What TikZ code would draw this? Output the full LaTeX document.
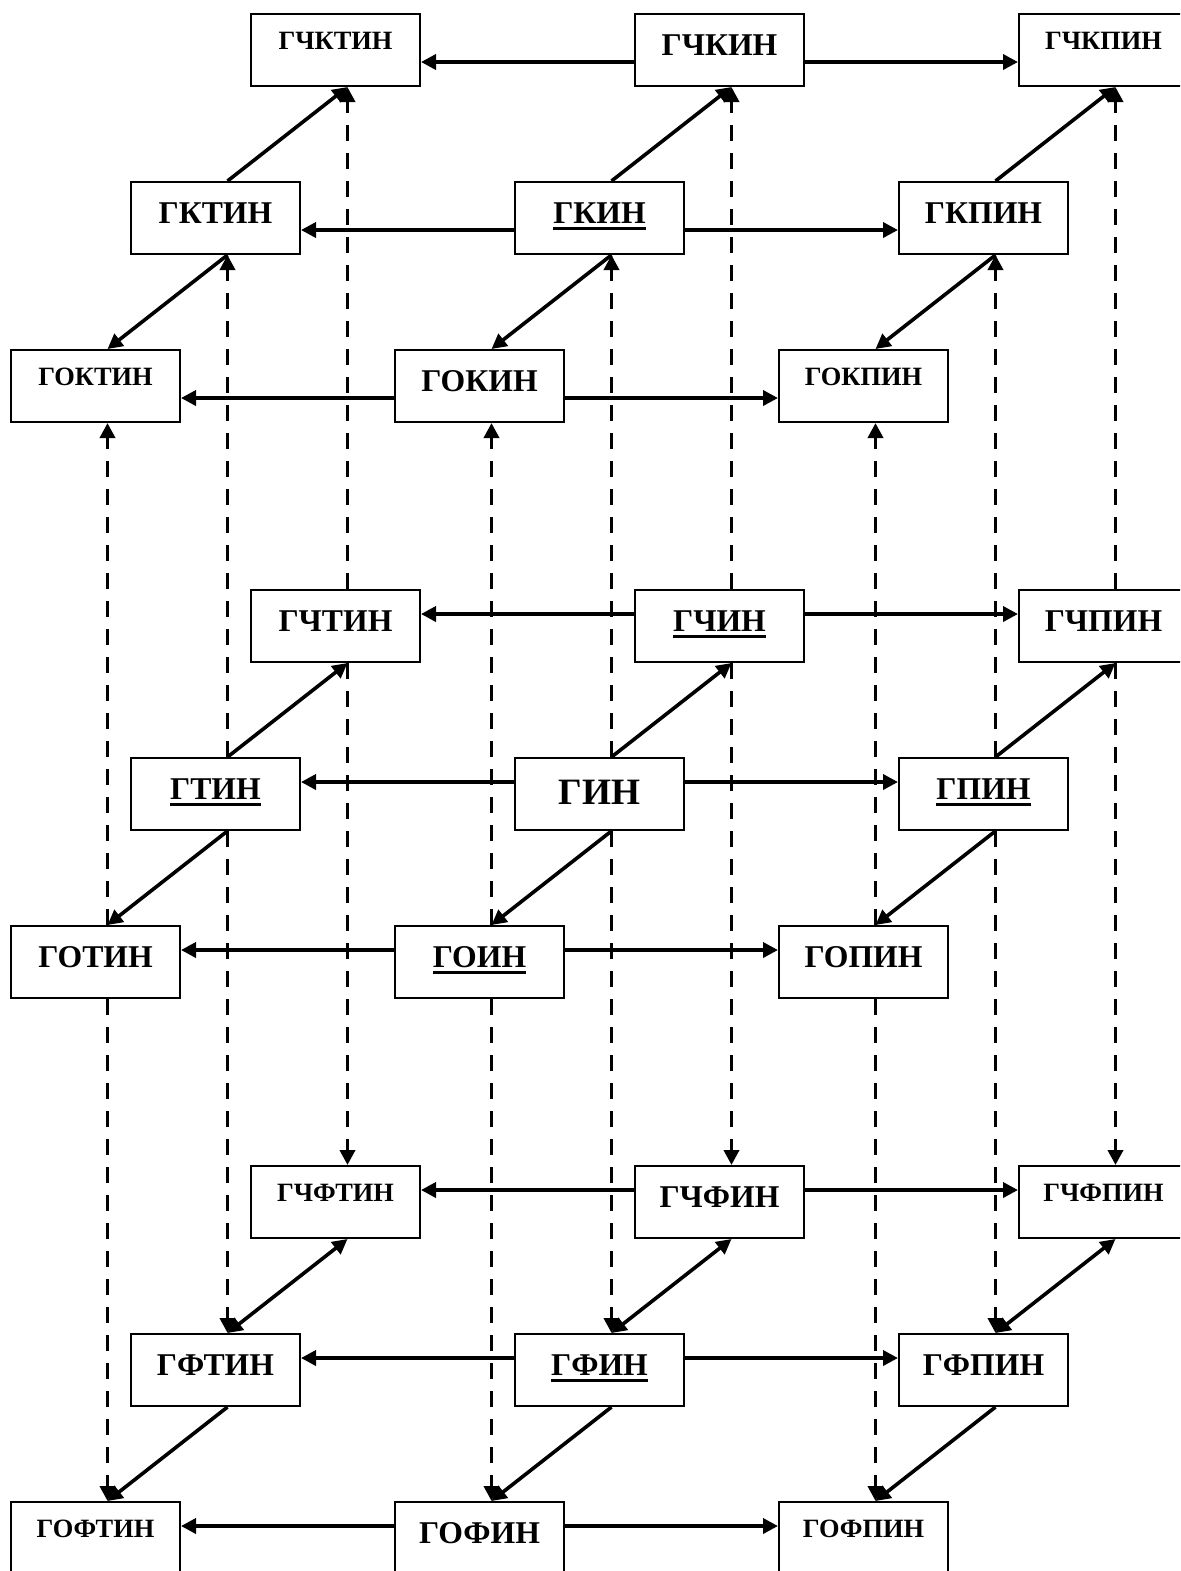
\documentclass[tikz,border=0pt]{standalone}
\usepackage{fontspec}
\setmainfont{Liberation Serif}
\usepackage{tikz}
\usetikzlibrary{arrows.meta}

\newcommand{\ulname}[1]{\vtop{\hbox{#1}\kern1.6pt\hrule height 1.5pt}}

\begin{document}
\begin{tikzpicture}[x=0.5pt, y=-0.5pt,
    box/.style={draw, line width=1pt, minimum width=84.5pt, minimum height=36pt, inner sep=0pt,
        font=\bfseries\fontsize{15.85}{18}\selectfont, text height=10.5pt, text depth=4.7pt},
    smallbox/.style={box, font=\bfseries\fontsize{13.2}{15}\selectfont, text height=8.7pt, text depth=9pt},
    bigbox/.style={box, font=\bfseries\fontsize{18.6}{21}\selectfont, text height=12.3pt, text depth=2pt},
    link/.style={line width=1.8pt, -{Triangle[length=7.5pt, width=7.5pt]}},
    both/.style={line width=1.8pt, {Triangle[length=7.5pt, width=7.5pt]}-{Triangle[length=7.5pt, width=7.5pt]}},
    dashlink/.style={link, dash pattern=on 8pt off 6pt}]
    \useasboundingbox (0, 0) rectangle (1180, 1571);
    \clip (0, 0) rectangle (1180, 1571);

    % layer K
    \node[smallbox] (gchktin) at (335.5, 50) {ГЧКТИН};
    \node[box] (gchkin) at (719.5, 50) {ГЧКИН};
    \node[smallbox] (gchkpin) at (1103.5, 50) {ГЧКПИН};
    \node[box] (gktin) at (215.5, 218) {ГКТИН};
    \node[box] (gkin) at (599.5, 218) {\ulname{ГКИН}};
    \node[box] (gkpin) at (983.5, 218) {ГКПИН};
    \node[smallbox] (goktin) at (95.5, 386) {ГОКТИН};
    \node[box] (gokin) at (479.5, 386) {ГОКИН};
    \node[smallbox] (gokpin) at (863.5, 386) {ГОКПИН};

    % middle layer
    \node[box] (gchtin) at (335.5, 626) {ГЧТИН};
    \node[box] (gchin) at (719.5, 626) {\ulname{ГЧИН}};
    \node[box] (gchpin) at (1103.5, 626) {ГЧПИН};
    \node[box] (gtin) at (215.5, 794) {\ulname{ГТИН}};
    \node[bigbox] (gin) at (599.5, 794) {ГИН};
    \node[box] (gpin) at (983.5, 794) {\ulname{ГПИН}};
    \node[box] (gotin) at (95.5, 962) {ГОТИН};
    \node[box] (goin) at (479.5, 962) {\ulname{ГОИН}};
    \node[box] (gopin) at (863.5, 962) {ГОПИН};

    % layer F
    \node[smallbox] (gchftin) at (335.5, 1202) {ГЧФТИН};
    \node[box] (gchfin) at (719.5, 1202) {ГЧФИН};
    \node[smallbox] (gchfpin) at (1103.5, 1202) {ГЧФПИН};
    \node[box] (gftin) at (215.5, 1370) {ГФТИН};
    \node[box] (gfin) at (599.5, 1370) {\ulname{ГФИН}};
    \node[box] (gfpin) at (983.5, 1370) {ГФПИН};
    \node[smallbox] (goftin) at (95.5, 1538) {ГОФТИН};
    \node[box] (gofin) at (479.5, 1538) {ГОФИН};
    \node[smallbox] (gofpin) at (863.5, 1538) {ГОФПИН};

    % rows
    \foreach \hub/\lbox/\rbox/\dy in {gchkin/gchktin/gchkpin/-6pt, gkin/gktin/gkpin/-6pt, gokin/goktin/gokpin/-6pt,
        gchin/gchtin/gchpin/6pt, gin/gtin/gpin/6pt, goin/gotin/gopin/6pt,
        gchfin/gchftin/gchfpin/6pt, gfin/gftin/gfpin/6pt, gofin/goftin/gofpin/6pt} {
        \draw[link] ([yshift=\dy]\hub.west) -- ([yshift=\dy]\lbox.east);
        \draw[link] ([yshift=\dy]\hub.east) -- ([yshift=\dy]\rbox.west);
    }

    % diagonals
    \foreach \hub/\back/\front in {gktin/gchktin/goktin, gkin/gchkin/gokin, gkpin/gchkpin/gokpin,
        gtin/gchtin/gotin, gin/gchin/goin, gpin/gchpin/gopin} {
        \draw[link] ([xshift=6pt]\hub.north) -- ([xshift=6pt]\back.south);
        \draw[link] ([xshift=6pt]\hub.south) -- ([xshift=6pt]\front.north);
    }
    \foreach \hub/\back/\front in {gftin/gchftin/goftin, gfin/gchfin/gofin, gfpin/gchfpin/gofpin} {
        \draw[both] ([xshift=6pt]\hub.north) -- ([xshift=6pt]\back.south);
        \draw[link] ([xshift=6pt]\hub.south) -- ([xshift=6pt]\front.north);
    }

    % layers
    \foreach \hub/\up/\down in {gchtin/gchktin/gchftin, gchin/gchkin/gchfin, gchpin/gchkpin/gchfpin,
        gtin/gktin/gftin, gin/gkin/gfin, gpin/gkpin/gfpin,
        gotin/goktin/goftin, goin/gokin/gofin, gopin/gokpin/gofpin} {
        \draw[dashlink] ([xshift=6pt]\hub.north) -- ([xshift=6pt]\up.south);
        \draw[dashlink] ([xshift=6pt]\hub.south) -- ([xshift=6pt]\down.north);
    }
\end{tikzpicture}
\end{document}
